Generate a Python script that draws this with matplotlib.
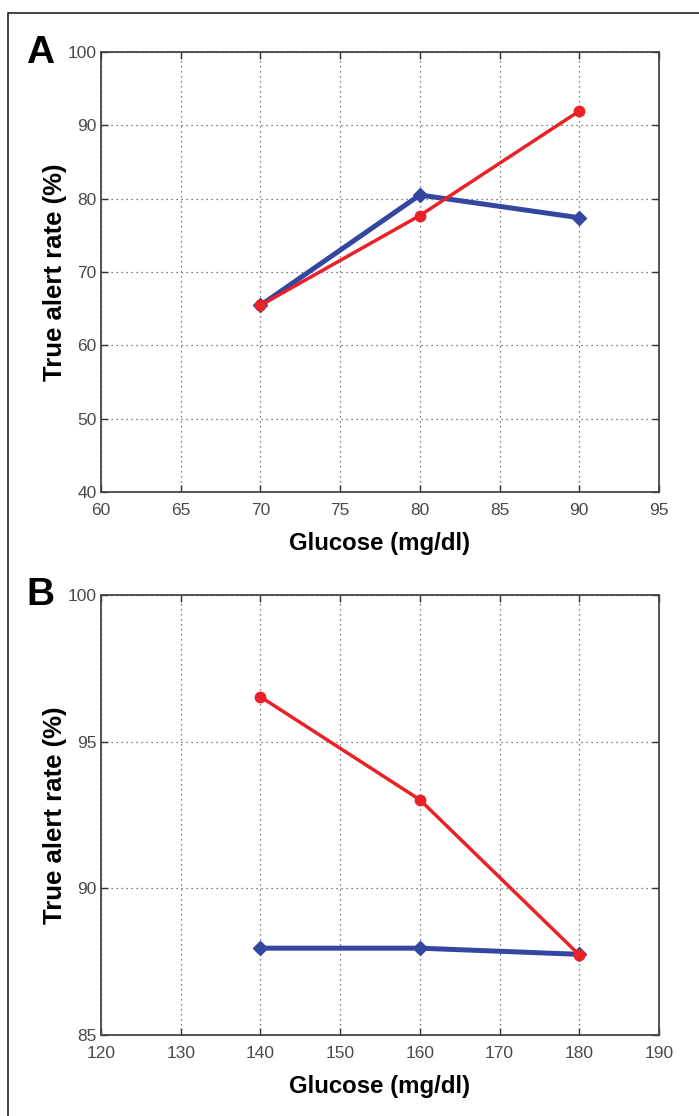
import matplotlib
matplotlib.use("Agg")
import matplotlib.pyplot as plt
from matplotlib.lines import Line2D

# Data
glucose_a = [70, 80, 90]
blue_a = [65.45, 80.5, 77.4]
red_a = [65.45, 77.7, 91.95]

glucose_b = [140, 160, 180]
blue_b = [87.96, 87.96, 87.75]
red_b = [96.53, 93.02, 87.73]

xticks_a = [60, 65, 70, 75, 80, 85, 90, 95]
yticks_a = [40, 50, 60, 70, 80, 90, 100]
xticks_b = [120, 130, 140, 150, 160, 170, 180, 190]
yticks_b = [85, 90, 95, 100]

W, H = 699, 1116
fig = plt.figure(figsize=(W / 100, H / 100), dpi=100)

BLUE = "#3447a0"
RED = "#ea2228"
TICKC = "#4a4a4a"

def px_axes(left, top, right, bottom):
    return fig.add_axes([left / W, 1 - bottom / H, (right - left) / W, (bottom - top) / H])

def style(ax, xt, yt, xlim, ylim):
    ax.set_xlim(*xlim)
    ax.set_ylim(*ylim)
    ax.set_xticks(xt)
    ax.set_yticks(yt)
    ax.tick_params(direction="in", length=5, width=1, top=True, right=True,
                   labelsize=12.5, labelcolor=TICKC, color="#333333")
    ax.tick_params(axis="x", pad=8)
    ax.tick_params(axis="y", pad=3)
    for lab in ax.get_xticklabels() + ax.get_yticklabels():
        lab.set_fontfamily("Liberation Sans")
    for s in ax.spines.values():
        s.set_color("#444444")
        s.set_linewidth(1.3)
    ax.grid(True, color="#555555", linestyle=(0, (1, 3)), linewidth=0.9)
    ax.set_axisbelow(True)
    ax.set_xlabel("Glucose (mg/dl)", fontsize=17.3, fontweight="bold",
                  family="Liberation Sans", labelpad=10)
    ax.set_ylabel("True alert rate (%)", fontsize=18.5, fontweight="bold",
                  family="Liberation Sans", labelpad=0.5)

axA = px_axes(101, 52, 659, 492)
axA.plot(glucose_a, blue_a, color=BLUE, lw=3.6, marker="D", ms=7, mfc=BLUE, mec=BLUE)
axA.plot(glucose_a, red_a, color=RED, lw=2.5, marker="o", ms=7.5, mfc=RED, mec=RED)
style(axA, xticks_a, yticks_a, (60, 95), (40, 100))

axB = px_axes(101, 595, 659, 1035)
axB.plot(glucose_b, blue_b, color=BLUE, lw=3.6, marker="D", ms=7, mfc=BLUE, mec=BLUE)
axB.plot(glucose_b, red_b, color=RED, lw=2.5, marker="o", ms=7.5, mfc=RED, mec=RED)
style(axB, xticks_b, yticks_b, (120, 190), (85, 100))

# Panel letters
fig.text(26 / W, 1 - 63 / H, "A", fontsize=28, fontweight="bold", family="Liberation Sans",
         ha="left", va="baseline")
fig.text(26 / W, 1 - 605 / H, "B", fontsize=28, fontweight="bold", family="Liberation Sans",
         ha="left", va="baseline")

# Outer frame (left and top edges visible)
fx = [7.5 / W, 7.5 / W, 1.0]
fy = [0, 1 - 13 / H, 1 - 13 / H]
fig.add_artist(Line2D(fx, fy, color="#333333", lw=1.3, transform=fig.transFigure))

fig.savefig("out.png", dpi=100)
